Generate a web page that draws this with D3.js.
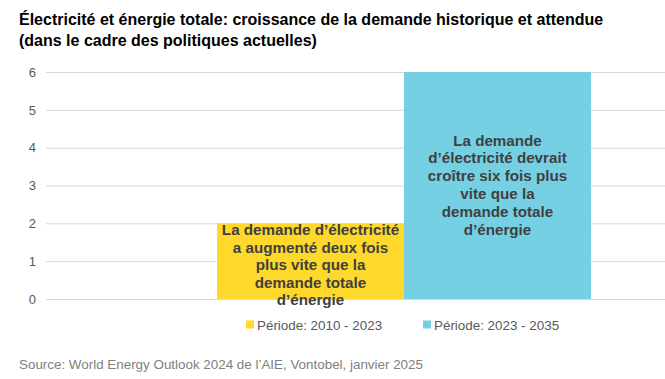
<!DOCTYPE html>
<html><head><meta charset="utf-8">
<script src="https://cdn.jsdelivr.net/npm/d3@7"></script>
<style>body{margin:0;background:#fff;}svg{display:block;font-family:"Liberation Sans",Arial,sans-serif;}</style>
</head><body><svg id="c" width="665" height="379"></svg>
<script>
const series = ["Période: 2010 - 2023", "Période: 2023 - 2035"];
const values = [2, 6];
const colors = ["#FED82A", "#76D0E4"];
const barLabels = [
  ["La demande d’électricité", "a augmenté deux fois", "plus vite que la", "demande totale", "d’énergie"],
  ["La demande", "d’électricité devrait", "croître six fois plus", "vite que la", "demande totale", "d’énergie"]
];
const yTicks = [0, 1, 2, 3, 4, 5, 6];
const titleLines = ["Électricité et énergie totale: croissance de la demande historique et attendue", "(dans le cadre des politiques actuelles)"];
const source = "Source: World Energy Outlook 2024 de l’AIE, Vontobel, janvier 2025";

const svg = d3.select("#c");
const plotL = 46, plotR = 665, plotT = 72, plotB = 299;
const y = d3.scaleLinear().domain([0, 6]).range([plotB, plotT]);
const x = d3.scaleBand().domain(series).range([217, 591]).padding(0);

svg.append("g").selectAll("text").data(titleLines).join("text")
  .attr("x", 19).attr("y", (d, i) => 25 + i * 21)
  .attr("font-size", 16).attr("font-weight", "bold").attr("fill", "#000")
  .text(d => d);

const yAxis = svg.append("g").attr("transform", `translate(${plotL},0)`)
  .call(d3.axisLeft(y).tickValues(yTicks).tickSize(-(plotR - plotL)).tickPadding(10).tickFormat(d3.format("d")));
yAxis.select(".domain").remove();
yAxis.selectAll(".tick line").attr("stroke", "#d9d9d9").attr("stroke-width", 1);
yAxis.selectAll(".tick text").attr("fill", "#595959").attr("font-size", 13).attr("font-family", "Liberation Sans, Arial, sans-serif");

svg.append("g").selectAll("rect").data(series).join("rect")
  .attr("x", d => x(d)).attr("width", x.bandwidth())
  .attr("y", (d, i) => y(values[i])).attr("height", (d, i) => y(0) - y(values[i]))
  .attr("fill", (d, i) => colors[i]);

// labels
const fs = 15.2;
const lab0 = svg.append("text").attr("text-anchor", "middle").attr("font-size", fs).attr("font-weight", "bold").attr("fill", "#404040");
barLabels[0].forEach((t, j) => lab0.append("tspan").attr("x", x(series[0]) + x.bandwidth() / 2).attr("y", y(values[0]) + 12 + j * 17.4).text(t));
const lab1 = svg.append("text").attr("text-anchor", "middle").attr("font-size", fs).attr("font-weight", "bold").attr("fill", "#404040");
const midY = (y(values[1]) + y(0)) / 2;
barLabels[1].forEach((t, j) => lab1.append("tspan").attr("x", x(series[1]) + x.bandwidth() / 2).attr("y", midY - 40 + j * 17.8).text(t));

// legend
const legX = [246, 423];
const leg = svg.append("g").selectAll("g").data(series).join("g").attr("transform", (d, i) => `translate(${legX[i]},325)`);
leg.append("rect").attr("x", 0).attr("y", -4.5).attr("width", 8).attr("height", 8).attr("fill", (d, i) => colors[i]);
leg.append("text").attr("x", 11).attr("y", 4.5).attr("font-size", 13.4).attr("fill", "#595959").text(d => d);

svg.append("text").attr("x", 19).attr("y", 369).attr("font-size", 13.4).attr("fill", "#808080").text(source);
</script></body></html>
